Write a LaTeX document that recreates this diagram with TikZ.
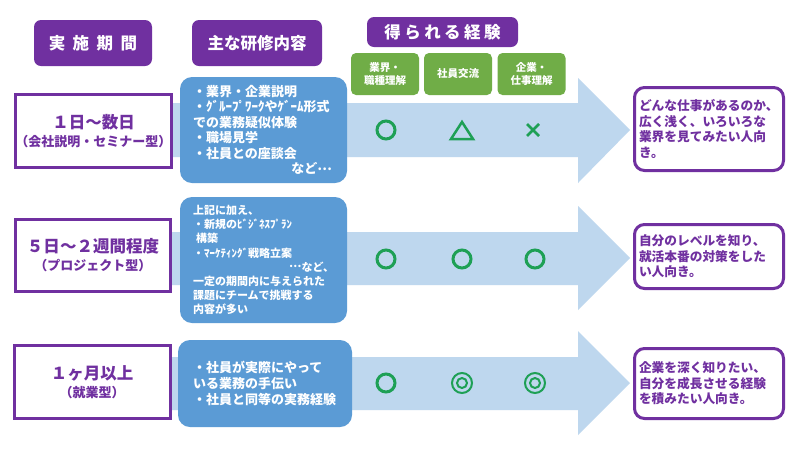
\documentclass[tikz,border=0pt]{standalone}
\usepackage{fontspec}
\setmainfont{Noto Sans CJK JP}
\definecolor{vpurple}{RGB}{112,48,160}
\definecolor{vblue}{RGB}{91,155,213}
\definecolor{arrowblue}{RGB}{190,215,238}
\definecolor{vgreen}{RGB}{112,173,71}
\definecolor{sgreen}{RGB}{30,160,85}
\newcommand{\middots}{\raisebox{3.5pt}{…}}
\begin{document}
\begin{tikzpicture}[x=1pt,y=-1pt,
  every node/.style={font=\bfseries},
  hdr/.style={fill=vpurple, rounded corners=7pt, text=white, inner sep=0pt, font=\bfseries\fontsize{16.5}{20}\selectfont},
  gbox/.style={fill=vgreen, rounded corners=5pt, text=white, inner sep=0pt, align=center, minimum width=68, minimum height=42, font=\bfseries\fontsize{10.5}{13}\selectfont},
  leftbox/.style={draw=vpurple, line width=3pt, fill=white, text=vpurple, inner sep=0pt, align=center},
  bluebox/.style={fill=vblue, rounded corners=12pt, text=white, align=left, inner ysep=0pt},
  rightbox/.style={draw=vpurple, line width=3pt, fill=white, rounded corners=10pt, text=vpurple, align=left, inner xsep=4.5pt, inner ysep=0pt, text width=140pt, font=\bfseries\fontsize{12.7}{15.5}\selectfont},
  okc/.style={circle, draw=sgreen, line width=3pt, minimum size=18pt, inner sep=0pt},
  dbl/.style={circle, draw=sgreen, line width=2pt, minimum size=#1, inner sep=0pt}
]
\useasboundingbox[fill=white] (0,0) rectangle (800,451);

% arrows
\fill[arrowblue] (165,103) -- (578,103) -- (578,78) -- (630,130) -- (578,183) -- (578,157) -- (165,157) -- cycle;
\fill[arrowblue] (165,232) -- (578,232) -- (578,206) -- (630,258) -- (578,310) -- (578,285) -- (165,285) -- cycle;
\fill[arrowblue] (165,357) -- (578,357) -- (578,331) -- (630,383) -- (578,435) -- (578,410) -- (165,410) -- cycle;

% headers
\node[hdr, minimum width=118, minimum height=46] (h1) at (93,43) {実\hspace{7.5pt}施\hspace{7.5pt}期\hspace{7.5pt}間};
\node[hdr, minimum width=130, minimum height=46] (h2) at (257,43) {主な研修内容};
\node[hdr, minimum width=151, minimum height=30] (h3) at (442.5,32) {得\hspace{3.5pt}ら\hspace{3.5pt}れ\hspace{3.5pt}る\hspace{3.5pt}経\hspace{3.5pt}験};

% green boxes
\node[gbox] (g1) at (385,74) {業界・\\職種理解};
\node[gbox] (g2) at (458,74) {社員交流};
\node[gbox] (g3) at (531.5,74) {企業・\\仕事理解};

% left boxes
\node[leftbox, minimum width=156, minimum height=73] (l1) at (93.5,131)
  {{\fontsize{16.5}{20}\selectfont １日～数日}\\[4pt]{\fontsize{13}{15}\selectfont （会社説明・セミナー型）}};
\node[leftbox, minimum width=155, minimum height=72] (l2) at (93,255.5)
  {{\fontsize{16.5}{20}\selectfont ５日～２週間程度}\\[4pt]{\fontsize{13}{15}\selectfont （プロジェクト型）}};
\node[leftbox, minimum width=156, minimum height=73] (l3) at (92,382)
  {{\fontsize{16.5}{20}\selectfont １ヶ月以上}\\[4pt]{\fontsize{13}{15}\selectfont （就業型）}};

% blue boxes
\node[bluebox, minimum width=167, minimum height=106, inner xsep=13pt, text width=141pt, font=\bfseries\fontsize{13}{15.5}\selectfont] (b1) at (263.5,130)
  {・業界・企業説明\\・ｸﾞﾙｰﾌﾟﾜｰｸやｹﾞｰﾑ形式\\での業務疑似体験\\・職場見学\\・社員との座談会\\\hspace*{\fill}など\middots\hspace*{2pt}};
\node[bluebox, minimum width=167, minimum height=126, inner xsep=13pt, text width=141pt, font=\bfseries\fontsize{11}{14.2}\selectfont] (b2) at (263.5,260)
  {上記に加え、\\・新規のﾋﾞｼﾞﾈｽﾌﾟﾗﾝ\\\hspace*{3pt}構築\\・ﾏｰｹﾃｨﾝｸﾞ戦略立案\\\hspace*{\fill}\middots など、\hspace*{10pt}\\一定の期間内に与えられた\\課題にチームで挑戦する\\内容が多い};
\node[bluebox, minimum width=174, minimum height=87, inner xsep=15pt, text width=144pt, font=\bfseries\fontsize{13}{16}\selectfont] (b3) at (265,383.5)
  {・社員が実際にやって\\いる業務の手伝い\\・社員と同等の実務経験};

% right boxes
\node[rightbox, minimum height=83] (r1) at (709,129)
  {どんな仕事があるのか、\\広く浅く、いろいろな\\業界を見てみたい人向\\き。};
\node[rightbox, minimum height=64] (r2) at (709,256.5)
  {自分のレベルを知り、\\就活本番の対策をした\\い人向き。};
\node[rightbox, minimum height=70] (r3) at (709,383.5)
  {企業を深く知りたい、\\自分を成長させる経験\\を積みたい人向き。};

% symbols row 1
\node[okc] (s11) at (386,130) {};
\coordinate (s12) at (462,131);
\draw[sgreen, line width=2.5pt, line join=miter] ([xshift=-11pt,yshift=-8pt]s12) -- ([xshift=11pt,yshift=-8pt]s12) -- ([yshift=9pt]s12) -- cycle;
\coordinate (s13) at (533,130);
\draw[sgreen, line width=2.5pt] ([xshift=-6pt,yshift=-6pt]s13) -- ([xshift=6pt,yshift=6pt]s13)
  ([xshift=-6pt,yshift=6pt]s13) -- ([xshift=6pt,yshift=-6pt]s13);

% symbols row 2
\node[okc] (s21) at (386,259) {};
\node[okc] (s22) at (462,259) {};
\node[okc] (s23) at (535,259) {};

% symbols row 3
\node[okc] (s31) at (386,383) {};
\node[dbl=20pt] (s32) at (462,383) {};
\node[dbl=10pt] (s32i) at (462,383) {};
\node[dbl=20pt] (s33) at (535,383) {};
\node[dbl=10pt] (s33i) at (535,383) {};
\end{tikzpicture}
\end{document}
